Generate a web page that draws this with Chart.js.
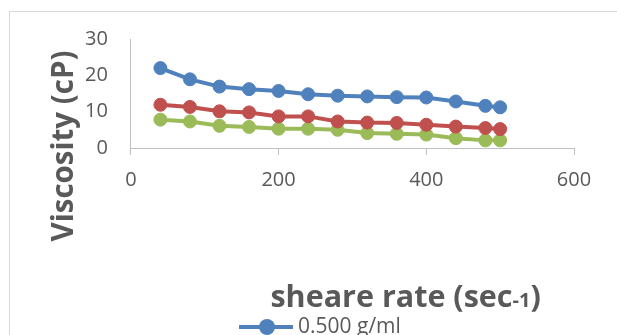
<!DOCTYPE html>
<html>
<head>
<meta charset="utf-8">
<script src="https://cdn.jsdelivr.net/npm/chart.js@4/dist/chart.umd.min.js"></script>
<style>
  html, body { margin: 0; padding: 0; background: #fff; overflow: hidden; }
  body { width: 617px; height: 335px; position: relative; font-family: "Open Sans", sans-serif; }
  #frame { position: absolute; left: 9px; top: 11px; width: 700px; height: 400px; border: 1px solid #d9d9d9; }
  #viscosityChart { position: absolute; left: 0; top: 0; }
  #legend { position: absolute; left: 239px; top: 312px; }
  .legend-item { display: flex; align-items: center; height: 26px; line-height: 26px; color: #595959; font-size: 21px; }
  .legend-mark { position: relative; top: 2px; width: 54px; height: 16px; margin-right: 5px; }
  .legend-mark .line { position: absolute; left: 0; right: 0; top: 6px; height: 4px; }
  .legend-mark .dot { position: absolute; left: 20px; top: 0; width: 16px; height: 16px; border-radius: 50%; }
</style>
</head>
<body>
<div id="frame"></div>
<canvas id="viscosityChart" width="617" height="335"></canvas>
<div id="legend"></div>
<script>
// Shear rate (1/s) and measured viscosity (cP) for each concentration
var shearRates = [40, 80, 120, 160, 200, 240, 280, 320, 360, 400, 440, 480, 500];
var visc500 = [22.0, 18.9, 16.9, 16.2, 15.7, 14.8, 14.4, 14.2, 14.0, 13.9, 12.8, 11.6, 11.2];
var visc250 = [11.9, 11.3, 10.1, 9.8, 8.7, 8.7, 7.3, 7.0, 6.9, 6.4, 5.9, 5.5, 5.2];
var visc125 = [7.8, 7.3, 6.1, 5.8, 5.3, 5.3, 5.0, 4.1, 3.9, 3.7, 2.7, 2.1, 2.1];

var seriesLabels = ["0.500 g/ml", "0.250 g/ml", "0.125 g/ml"];
var seriesColors = ["#4f81bd", "#c0504d", "#9bbb59"];

var xTicks = [0, 200, 400, 600];
var yTicks = [0, 10, 20, 30];

var yTitle = "Viscosity (cP)";
// x title is drawn in pieces so the exponent can be smaller
var xTitleParts = [["sheare rate (sec", 30.5], ["-1", 20], [")", 30.5]];

var textColor = "#595959";
var axisColor = "#bfbfbf";
var tickFont = { family: "Open Sans", size: 20 };

function toPoints(values) {
    return values.map(function (v, i) {
        return { x: shearRates[i], y: v };
    });
}

function makeDataset(values, i) {
    return {
        label: seriesLabels[i],
        data: toPoints(values),
        borderColor: seriesColors[i],
        backgroundColor: seriesColors[i],
        borderWidth: 4,
        pointRadius: 6.5,
        pointBorderWidth: 1,
        pointBackgroundColor: seriesColors[i],
        pointBorderColor: seriesColors[i],
        showLine: true,
        tension: 0
    };
}

// Axis titles placed relative to the plot area
var axisTitles = {
    id: "axisTitles",
    afterDraw: function (chart) {
        var ctx = chart.ctx;
        var area = chart.chartArea;
        ctx.save();
        ctx.fillStyle = textColor;

        // vertical title
        ctx.save();
        ctx.translate(area.left - 58, area.bottom - 2);
        ctx.rotate(-Math.PI / 2);
        ctx.font = "bold 29.5px 'Open Sans'";
        ctx.textAlign = "center";
        ctx.textBaseline = "alphabetic";
        ctx.fillText(yTitle, 0, 0);
        ctx.restore();

        // horizontal title
        var total = 0;
        xTitleParts.forEach(function (p) {
            ctx.font = "bold " + p[1] + "px 'Open Sans'";
            total += ctx.measureText(p[0]).width;
        });
        var x = area.left + area.width * 0.62 - total / 2;
        var y = area.bottom + 158.5;
        ctx.textAlign = "left";
        ctx.textBaseline = "alphabetic";
        xTitleParts.forEach(function (p) {
            ctx.font = "bold " + p[1] + "px 'Open Sans'";
            ctx.fillText(p[0], x, y);
            x += ctx.measureText(p[0]).width;
        });
        ctx.restore();
    }
};

var chart = new Chart(document.getElementById("viscosityChart"), {
    type: "scatter",
    data: {
        datasets: [visc500, visc250, visc125].map(makeDataset)
    },
    options: {
        responsive: false,
        animation: false,
        devicePixelRatio: 1,
        layout: {
            padding: { left: 62, right: 43, top: 39, bottom: 130 }
        },
        plugins: {
            legend: { display: false },
            tooltip: { enabled: false }
        },
        scales: {
            x: {
                type: "linear",
                min: xTicks[0],
                max: xTicks[xTicks.length - 1],
                afterBuildTicks: function (axis) {
                    axis.ticks = xTicks.map(function (v) { return { value: v }; });
                },
                grid: { drawOnChartArea: false, color: axisColor, tickLength: 7 },
                border: { color: axisColor, width: 1 },
                ticks: { color: textColor, font: tickFont, padding: 13, maxRotation: 0 }
            },
            y: {
                min: yTicks[0],
                max: yTicks[yTicks.length - 1],
                afterBuildTicks: function (axis) {
                    axis.ticks = yTicks.map(function (v) { return { value: v }; });
                },
                grid: { display: false, drawTicks: false },
                border: { display: true, color: axisColor, width: 1 },
                ticks: { color: textColor, font: tickFont, padding: 23 }
            }
        }
    },
    plugins: [axisTitles]
});

// Legend rows under the chart
var legend = document.getElementById("legend");
chart.data.datasets.forEach(function (ds) {
    var item = document.createElement("div");
    item.className = "legend-item";
    item.innerHTML = '<span class="legend-mark"><span class="line" style="background:' + ds.borderColor +
        '"></span><span class="dot" style="background:' + ds.borderColor + '"></span></span>' +
        '<span>' + ds.label + '</span>';
    legend.appendChild(item);
});
</script>
</body>
</html>
